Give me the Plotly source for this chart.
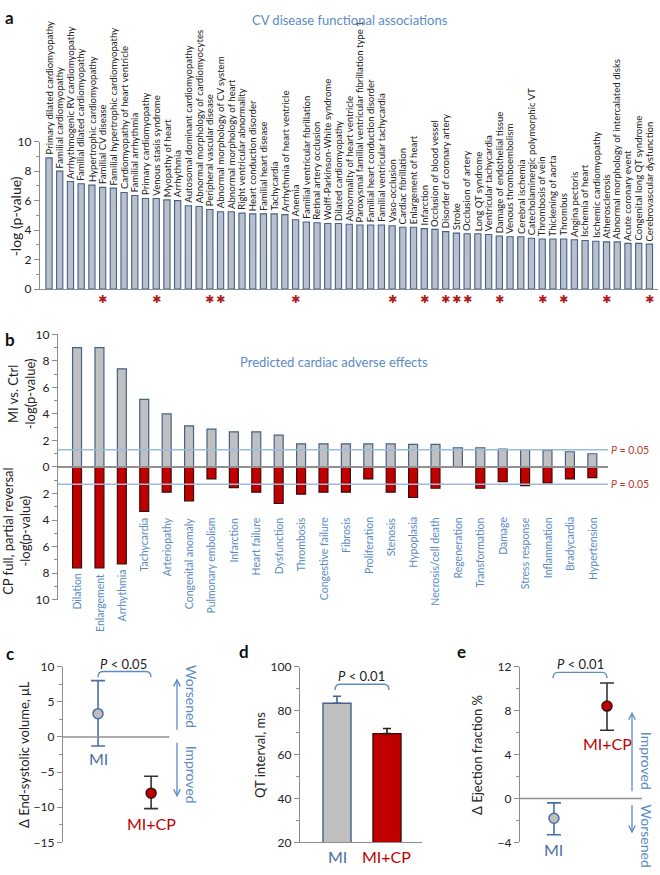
import plotly.graph_objects as go

W, H = 660, 875

# ---------------- data ----------------
cv_terms = [
    "Primary dilated cardiomyopathy", "Familial cardiomyopathy", "Arrhythmogenic RV cardiomyopathy",
    "Familial dilated cardiomyopathy", "Hypertrophic cardiomyopathy", "Familial CV disease",
    "Familial hypertrophic cardiomyopathy", "Cardiomyopathy of heart ventricle", "Familial arrhythmia",
    "Primary cardiomyopathy", "Venous stasis syndrome", "Myopathy of heart", "Arrhythmia",
    "Autosomal dominant cardiomyopathy", "Abnormal morphology of cardiomyocytes",
    "Peripheral vascular disease", "Abnormal morphology of CV system", "Abnormal morphology of heart",
    "Right ventricular abnormality", "Heart conduction disorder", "Familial heart disease",
    "Tachycardia", "Arrhythmia of heart ventricle", "Anemia", "Familial ventricular fibrillation",
    "Retinal artery occlusion", "Wolff-Parkinson-White syndrome", "Dilated cardiomyopathy",
    "Abnormality of heart ventricle", "Paroxysmal familial ventricular fibrillation type 1",
    "Familial heart conduction disorder", "Familial ventricular tachycardia", "Vaso-occlusion",
    "Cardiac fibrillation", "Enlargement of heart", "Infarction", "Occlusion of blood vessel",
    "Disorder of coronary artery", "Stroke", "Occlusion of artery", "Long QT syndrome",
    "Ventricular tachycardia", "Damage of endothelial tissue", "Venous thromboembolism",
    "Cerebral ischemia", "Catecholaminergic polymorphic VT", "Thrombosis of vein",
    "Thickening of aorta", "Thrombus", "Angina pectoris", "Ischemia of heart",
    "Ischemic cardiomyopathy", "Atherosclerosis", "Abnormal morphology of intercalated disks",
    "Acute coronary event", "Congenital long QT syndrome", "Cerebrovascular dysfunction",
]
cv_values = [
    8.9, 8.0, 7.3, 7.15, 7.05, 6.9, 6.85, 6.55, 6.35, 6.15, 6.15, 6.05, 6.0, 5.65, 5.6,
    5.4, 5.25, 5.25, 5.15, 5.1, 5.1, 5.1, 5.05, 4.7, 4.55, 4.5, 4.45, 4.45, 4.4, 4.35,
    4.35, 4.35, 4.3, 4.2, 4.2, 4.1, 4.05, 3.9, 3.8, 3.75, 3.75, 3.7, 3.6, 3.55, 3.55,
    3.45, 3.4, 3.4, 3.4, 3.35, 3.3, 3.25, 3.2, 3.2, 3.1, 3.1, 3.05,
]
cv_starred = [
    "Familial CV disease", "Venous stasis syndrome", "Peripheral vascular disease",
    "Abnormal morphology of CV system", "Anemia", "Vaso-occlusion", "Infarction",
    "Disorder of coronary artery", "Stroke", "Occlusion of artery", "Damage of endothelial tissue",
    "Thrombosis of vein", "Thrombus", "Atherosclerosis", "Cerebrovascular dysfunction",
]

effects = [
    "Dilation", "Enlargement", "Arrhythmia", "Tachycardia", "Arteriopathy", "Congenital anomaly",
    "Pulmonary embolism", "Infarction", "Heart failure", "Dysfunction", "Thrombosis",
    "Congestive failure", "Fibrosis", "Proliferation", "Stenosis", "Hypoplasia",
    "Necrosis/cell death", "Regeneration", "Transformation", "Damage", "Stress response",
    "Inflammation", "Bradycardia", "Hypertension",
]
mi_vs_ctrl = [9.0, 9.0, 7.4, 5.1, 4.0, 3.1, 2.85, 2.65, 2.65, 2.4, 1.75, 1.75, 1.75, 1.75,
              1.75, 1.7, 1.7, 1.45, 1.45, 1.35, 1.3, 1.25, 1.15, 1.0]
cp_reversal = [7.6, 7.6, 7.3, 3.35, 1.9, 2.55, 0.9, 1.55, 1.9, 2.75, 2.05, 1.9, 1.9, 0.9,
               1.9, 2.3, 1.6, None, 1.6, 1.1, 1.4, 1.2, 0.9, 0.8]
p_threshold = 1.301  # -log10(0.05)

groups = ["MI", "MI+CP"]
esv_mean = [3.3, -8.0]
esv_low = [-1.3, -10.2]
esv_high = [8.0, -5.6]
qt_mean = [83.3, 69.5]
qt_err = [3.2, 2.3]
ef_mean = [-1.8, 8.4]
ef_low = [-3.3, 6.2]
ef_high = [-0.4, 10.5]

# ---------------- style ----------------
FONT = "Lato"
BLUE_TXT = "#5b8bc4"
RED = "#c00000"
DARK_RED = "#3b0c0c"
BAR_EDGE = "#44618c"
AXIS = "#8c8c8c"
TXT = "#222222"


def px(x):
    return x / W


def py(y):
    return 1 - y / H


annotations = []
shapes = []


def ann(text, x, y, size=12, color=TXT, angle=0, xa="center", ya="middle", **kw):
    d = dict(text=text, x=px(x), y=py(y), xref="paper", yref="paper", showarrow=False,
             font=dict(family=FONT, size=size, color=color), textangle=angle,
             xanchor=xa, yanchor=ya)
    d.update(kw)
    annotations.append(d)


fig = go.Figure()

# ---------------- panel a ----------------
xa_idx = list(range(len(cv_terms)))
fig.add_trace(go.Bar(x=xa_idx, y=cv_values, width=0.58, xaxis="x", yaxis="y",
                     marker=dict(color="#b9c0cb", line=dict(color=BAR_EDGE, width=1.1)),
                     hovertext=cv_terms))
for i, (t, v) in enumerate(zip(cv_terms, cv_values)):
    annotations.append(dict(text=t, x=i, y=v, xref="x", yref="y", showarrow=False,
                            textangle=-90, xanchor="center", yanchor="bottom", yshift=1,
                            font=dict(family=FONT, size=9.6, color=TXT)))
    if t in cv_starred:
        annotations.append(dict(text="✱", x=i, y=0, xref="x", yref="y", showarrow=False,
                                xanchor="center", yanchor="top", yshift=-2,
                                font=dict(family="DejaVu Sans", size=11, color="#b01c1c")))

# ---------------- panel b ----------------
xb_idx = list(range(len(effects)))
fig.add_trace(go.Bar(x=xb_idx, y=mi_vs_ctrl, width=0.4, xaxis="x2", yaxis="y2",
                     marker=dict(color="#c0c0c0", line=dict(color=BAR_EDGE, width=1.2)),
                     hovertext=effects))
fig.add_trace(go.Bar(x=xb_idx, y=[(-v if v is not None else None) for v in cp_reversal],
                     width=0.4, xaxis="x2", yaxis="y2",
                     marker=dict(color=RED, line=dict(color=DARK_RED, width=1.2)),
                     hovertext=effects))
for i, (t, v) in enumerate(zip(effects, cp_reversal)):
    depth = max(v if v is not None else 0, 3.35) + 0.28
    annotations.append(dict(text=t, x=i, y=-depth, xref="x2", yref="y2", showarrow=False,
                            textangle=-90, xanchor="center", yanchor="top",
                            font=dict(family=FONT, size=10.5, color=BLUE_TXT)))
for yv in (p_threshold, -p_threshold):
    shapes.append(dict(type="line", xref="x2 domain", yref="y2", x0=0, x1=1, y0=yv, y1=yv,
                       line=dict(color="#9dbad9", width=1.5), layer="above"))
shapes.append(dict(type="line", xref="x2 domain", yref="y2", x0=0, x1=1, y0=0, y1=0,
                   line=dict(color="#909090", width=2), layer="above"))
for yv in (p_threshold, -p_threshold):
    annotations.append(dict(text="<i>P</i> = 0.05", x=1, y=yv, xref="x2 domain", yref="y2",
                            showarrow=False, xanchor="left", yanchor="middle", xshift=1,
                            font=dict(family=FONT, size=10.5, color="#c0392b")))

# ---------------- panel c ----------------
fig.add_trace(go.Scatter(x=[0], y=[esv_mean[0]], mode="markers", xaxis="x3", yaxis="y3",
                         marker=dict(size=10, color="#bfbfbf", line=dict(color="#4a6fa5", width=1.5)),
                         error_y=dict(type="data", symmetric=False,
                                      array=[esv_high[0] - esv_mean[0]],
                                      arrayminus=[esv_mean[0] - esv_low[0]],
                                      color="#4a6fa5", thickness=1.6, width=7)))
fig.add_trace(go.Scatter(x=[1], y=[esv_mean[1]], mode="markers", xaxis="x3", yaxis="y3",
                         marker=dict(size=10, color=RED, line=dict(color=DARK_RED, width=1.5)),
                         error_y=dict(type="data", symmetric=False,
                                      array=[esv_high[1] - esv_mean[1]],
                                      arrayminus=[esv_mean[1] - esv_low[1]],
                                      color="#333333", thickness=1.6, width=7)))
shapes.append(dict(type="line", xref="x3 domain", yref="y3", x0=0, x1=0.95, y0=0, y1=0,
                   line=dict(color="#909090", width=1.5)))

# ---------------- panel d ----------------
fig.add_trace(go.Bar(x=[0], y=[qt_mean[0]], width=0.56, xaxis="x4", yaxis="y4",
                     marker=dict(color="#c0c0c0", line=dict(color=BAR_EDGE, width=1.4)),
                     error_y=dict(type="data", symmetric=False, array=[qt_err[0]], arrayminus=[0],
                                  color=BAR_EDGE, thickness=1.6, width=4)))
fig.add_trace(go.Bar(x=[1], y=[qt_mean[1]], width=0.56, xaxis="x4", yaxis="y4",
                     marker=dict(color=RED, line=dict(color=DARK_RED, width=1.4)),
                     error_y=dict(type="data", symmetric=False, array=[qt_err[1]], arrayminus=[0],
                                  color="#222222", thickness=1.6, width=4)))

# ---------------- panel e ----------------
fig.add_trace(go.Scatter(x=[0], y=[ef_mean[0]], mode="markers", xaxis="x5", yaxis="y5",
                         marker=dict(size=10, color="#bfbfbf", line=dict(color="#4a6fa5", width=1.5)),
                         error_y=dict(type="data", symmetric=False,
                                      array=[ef_high[0] - ef_mean[0]],
                                      arrayminus=[ef_mean[0] - ef_low[0]],
                                      color="#4a6fa5", thickness=1.6, width=7)))
fig.add_trace(go.Scatter(x=[1], y=[ef_mean[1]], mode="markers", xaxis="x5", yaxis="y5",
                         marker=dict(size=10, color=RED, line=dict(color=DARK_RED, width=1.5)),
                         error_y=dict(type="data", symmetric=False,
                                      array=[ef_high[1] - ef_mean[1]],
                                      arrayminus=[ef_mean[1] - ef_low[1]],
                                      color="#333333", thickness=1.6, width=7)))
shapes.append(dict(type="line", xref="x5 domain", yref="y5", x0=0, x1=1, y0=0, y1=0,
                   line=dict(color="#909090", width=1.5)))

# ---------------- text, brackets, arrows ----------------
ann("<b>a</b>", 3, 10, size=17, color="#111", xa="left")
ann("<b>b</b>", 3, 337, size=17, color="#111", xa="left")
ann("<b>c</b>", 4, 657, size=17, color="#111", xa="left")
ann("<b>d</b>", 244, 655, size=17, color="#111", xa="center")
ann("<b>e</b>", 462, 655, size=17, color="#111", xa="center")

ann("CV disease functional associations", 350, 12, size=13, color=BLUE_TXT)
ann("Predicted cardiac adverse effects", 334, 360, size=13, color=BLUE_TXT)

ann("-log (p-value)", 15, 212, size=14, angle=-90)
ann("MI vs. Ctrl<br>-log(p-value)", 21, 392, size=13, angle=-90)
ann("CP full, partial reversal<br>-log(p-value)", 17, 533, size=13, angle=-90)
ann("Δ End-systolic volume, μL", 24, 760, size=13, angle=-90)
ann("QT interval, ms", 260, 760, size=13, angle=-90)
ann("Δ Ejection fraction %", 477, 760, size=13, angle=-90)

# group labels
ann("MI", 98, 764, size=16, color="#4a6fa5")
ann("MI+CP", 151, 830, size=16, color=RED)
ann("MI", 337, 863, size=16, color="#4a6fa5")
ann("MI+CP", 387, 863, size=16, color=RED)
ann("MI+CP", 607, 748, size=16, color=RED)
ann("MI", 553, 856, size=16, color="#4a6fa5")

# significance
ann("<i>P</i> < 0.05", 124, 667, size=13)
ann("<i>P</i> < 0.01", 361, 680, size=13)
ann("<i>P</i> < 0.01", 580, 667, size=13)


def bracket(x0, x1, ytop, yend):
    r = 5
    path = (f"M {px(x0)},{py(yend)} Q {px(x0)},{py(ytop)} {px(x0 + r)},{py(ytop)} "
            f"L {px(x1 - r)},{py(ytop)} Q {px(x1)},{py(ytop)} {px(x1)},{py(yend)}")
    shapes.append(dict(type="path", xref="paper", yref="paper", path=path,
                       line=dict(color="#5b8bc4", width=1.4)))


bracket(98, 151, 675, 681)
bracket(335, 389, 688, 694)
bracket(553, 607, 676, 682)


def arrow(x, yhead, ytail):
    annotations.append(dict(text="", x=px(x), y=py(yhead), xref="paper", yref="paper",
                            ax=0, ay=ytail - yhead, showarrow=True, arrowhead=5,
                            arrowsize=1, arrowwidth=1.3, arrowcolor="#5b8bc4"))


arrow(177, 682, 735)
arrow(177, 803, 747)
arrow(632, 716, 797)
arrow(632, 840, 810)
ann("Worsened", 191, 701, size=14, color=BLUE_TXT, angle=90)
ann("Improved", 191, 780, size=14, color=BLUE_TXT, angle=90)
ann("Improved", 646, 766, size=14, color=BLUE_TXT, angle=90)
ann("Worsened", 646, 842, size=14, color=BLUE_TXT, angle=90)

# ---------------- axes ----------------
tickfont = dict(family=FONT, size=12, color=TXT)


def yax(domain, rng, dtick, minor_dtick, anchor, **kw):
    d = dict(domain=domain, range=rng, anchor=anchor, showline=True, linecolor=AXIS, linewidth=1.2,
             ticks="outside", ticklen=5, tickcolor=AXIS, dtick=dtick, showgrid=False,
             zeroline=False, tickfont=tickfont, fixedrange=True,
             minor=dict(ticks="outside", ticklen=3, tickcolor=AXIS, dtick=minor_dtick))
    d.update(kw)
    return d


def xax(domain, rng, anchor, showline=False):
    return dict(domain=domain, range=rng, anchor=anchor, showline=showline, linecolor=AXIS,
                linewidth=1.2, showticklabels=False, ticks="", showgrid=False, zeroline=False,
                fixedrange=True)


ydom_low = [py(849), py(670)]

fig.update_layout(
    width=W, height=H, margin=dict(l=0, r=0, t=0, b=0),
    paper_bgcolor="white", plot_bgcolor="white", showlegend=False,
    font=dict(family=FONT, color=TXT),
    barmode="overlay",
    xaxis=xax([px(40), px(658)], [-0.84, 56.8], "y", showline=True),
    yaxis=yax([py(286), py(136)], [0, 10], 2, 1, "x"),
    xaxis2=xax([px(58), px(608)], [-0.85, 23.7], "y2"),
    yaxis2=yax([py(602), py(332)], [-10, 10], 2, 1, "x2",
               tickmode="array", tickvals=list(range(-10, 11, 2)),
               ticktext=[str(abs(v)) for v in range(-10, 11, 2)]),
    xaxis3=xax([px(63), px(175)], [-0.66, 1.45], "y3"),
    yaxis3=yax(ydom_low, [-15, 10], 5, 2.5, "x3"),
    xaxis4=xax([px(300), px(422)], [-0.74, 1.7], "y4", showline=True),
    yaxis4=yax(ydom_low, [20, 100], 20, 10, "x4"),
    xaxis5=xax([px(520), px(642)], [-0.64, 1.66], "y5"),
    yaxis5=yax(ydom_low, [-4, 12], 4, 2, "x5"),
    annotations=annotations,
    shapes=shapes,
)

fig.write_html("out.html", config={"displayModeBar": False},
               post_script="document.body.style.margin='0';document.body.style.overflow='hidden';")
